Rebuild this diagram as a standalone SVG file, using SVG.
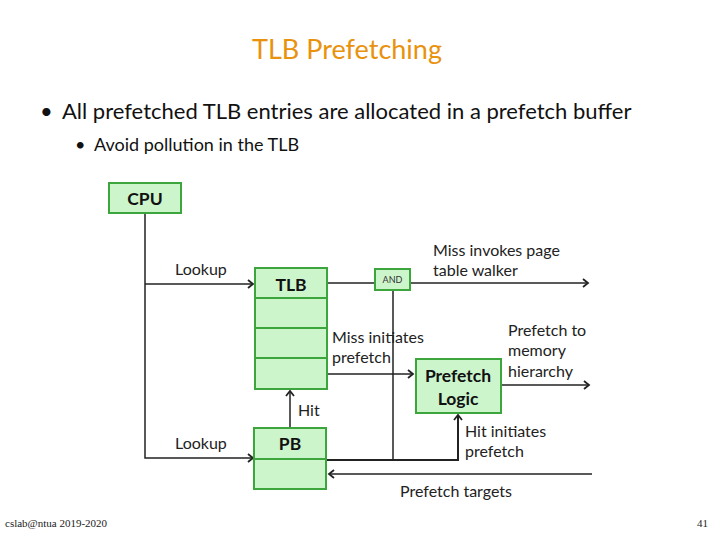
<svg xmlns="http://www.w3.org/2000/svg" width="720" height="540" viewBox="0 0 720 540">
<style>
.box{fill:#ccf5cc;stroke:#3ca63c;stroke-width:2}
.ln{fill:none;stroke:#222;stroke-width:1.5}
.lbl{font-family:Lato,"Open Sans",sans-serif;font-size:16px;fill:#222}
.bold{font-family:Lato,"Open Sans",sans-serif;font-size:17.5px;font-weight:bold;fill:#111;text-anchor:middle}
</style>
<defs>
<marker id="ah" markerWidth="10" markerHeight="10" refX="8" refY="5" orient="auto" markerUnits="userSpaceOnUse">
<polyline points="3,1 8,5 3,9" fill="none" stroke="#222" stroke-width="1.8"/>
</marker>
</defs>
<rect width="720" height="540" fill="#fff"/>
<text x="347" y="59" text-anchor="middle" font-family="Lato,'Open Sans',sans-serif" font-size="27" fill="#e8920e">TLB Prefetching</text>
<text x="40" y="119" font-family="Lato,'Open Sans',sans-serif" font-size="22" fill="#111">•</text>
<text x="62" y="119" font-family="Lato,'Open Sans',sans-serif" font-size="22" fill="#111">All prefetched TLB entries are allocated in a prefetch buffer</text>
<text x="75" y="151" font-family="Lato,'Open Sans',sans-serif" font-size="18" fill="#111">•</text>
<text x="94" y="151" font-family="Lato,'Open Sans',sans-serif" font-size="18" fill="#111">Avoid pollution in the TLB</text>
<g id="connectors">
<polyline class="ln" points="145,213 145,458 253,458" marker-end="url(#ah)"/>
<line class="ln" x1="145" y1="284" x2="253" y2="284" marker-end="url(#ah)"/>
<line class="ln" x1="327" y1="283" x2="375" y2="283"/>
<line class="ln" x1="410" y1="283" x2="588" y2="283" marker-end="url(#ah)"/>
<line class="ln" x1="393" y1="290" x2="393" y2="460"/>
<line class="ln" x1="327" y1="374" x2="413" y2="374" marker-end="url(#ah)"/>
<line class="ln" x1="501" y1="385" x2="589" y2="385" marker-end="url(#ah)"/>
<line class="ln" x1="290" y1="428" x2="290" y2="391" marker-end="url(#ah)"/>
<polyline class="ln" style="stroke-width:2" points="327,460 458,460 458,415" marker-end="url(#ah)"/>
<line class="ln" x1="592" y1="474" x2="329" y2="474" marker-end="url(#ah)"/>
</g>
<g id="cpu"><rect class="box" x="109" y="183" width="72" height="30"/><text class="bold" x="145" y="205">CPU</text></g>
<g id="tlb">
<rect class="box" x="255" y="268" width="72" height="30"/>
<rect class="box" x="255" y="298" width="72" height="30"/>
<rect class="box" x="255" y="328" width="72" height="30"/>
<rect class="box" x="255" y="358" width="72" height="31"/>
<text class="bold" x="291" y="291">TLB</text>
</g>
<g id="and"><rect class="box" x="375" y="269" width="35" height="21"/><text x="392.5" y="283" text-anchor="middle" font-family="Lato,'Open Sans',sans-serif" font-size="9" fill="#333">AND</text></g>
<g id="prefetch-logic"><rect class="box" x="416" y="359" width="85" height="54"/><text class="bold" x="458" y="382">Prefetch</text><text class="bold" x="458" y="405">Logic</text></g>
<g id="pb">
<rect class="box" x="254" y="428" width="72" height="31"/>
<rect class="box" x="254" y="459" width="72" height="30"/>
<text class="bold" x="290" y="450">PB</text>
</g>
<g id="labels">
<text class="lbl" x="175" y="275">Lookup</text>
<text class="lbl" x="175" y="449">Lookup</text>
<text class="lbl" x="433" y="256">Miss invokes page</text>
<text class="lbl" x="433" y="276">table walker</text>
<text class="lbl" x="332" y="343">Miss initiates</text>
<text class="lbl" x="332" y="363">prefetch</text>
<text class="lbl" x="508" y="336">Prefetch to</text>
<text class="lbl" x="508" y="356">memory</text>
<text class="lbl" x="508" y="377">hierarchy</text>
<text class="lbl" x="298" y="416">Hit</text>
<text class="lbl" x="465" y="437">Hit initiates</text>
<text class="lbl" x="465" y="457">prefetch</text>
<text class="lbl" x="400" y="497">Prefetch targets</text>
</g>
<text x="5" y="527" font-family="'Liberation Serif',serif" font-size="11" fill="#222">cslab@ntua 2019-2020</text>
<text x="708" y="527" text-anchor="end" font-family="'Liberation Serif',serif" font-size="11" fill="#222">41</text>
</svg>
